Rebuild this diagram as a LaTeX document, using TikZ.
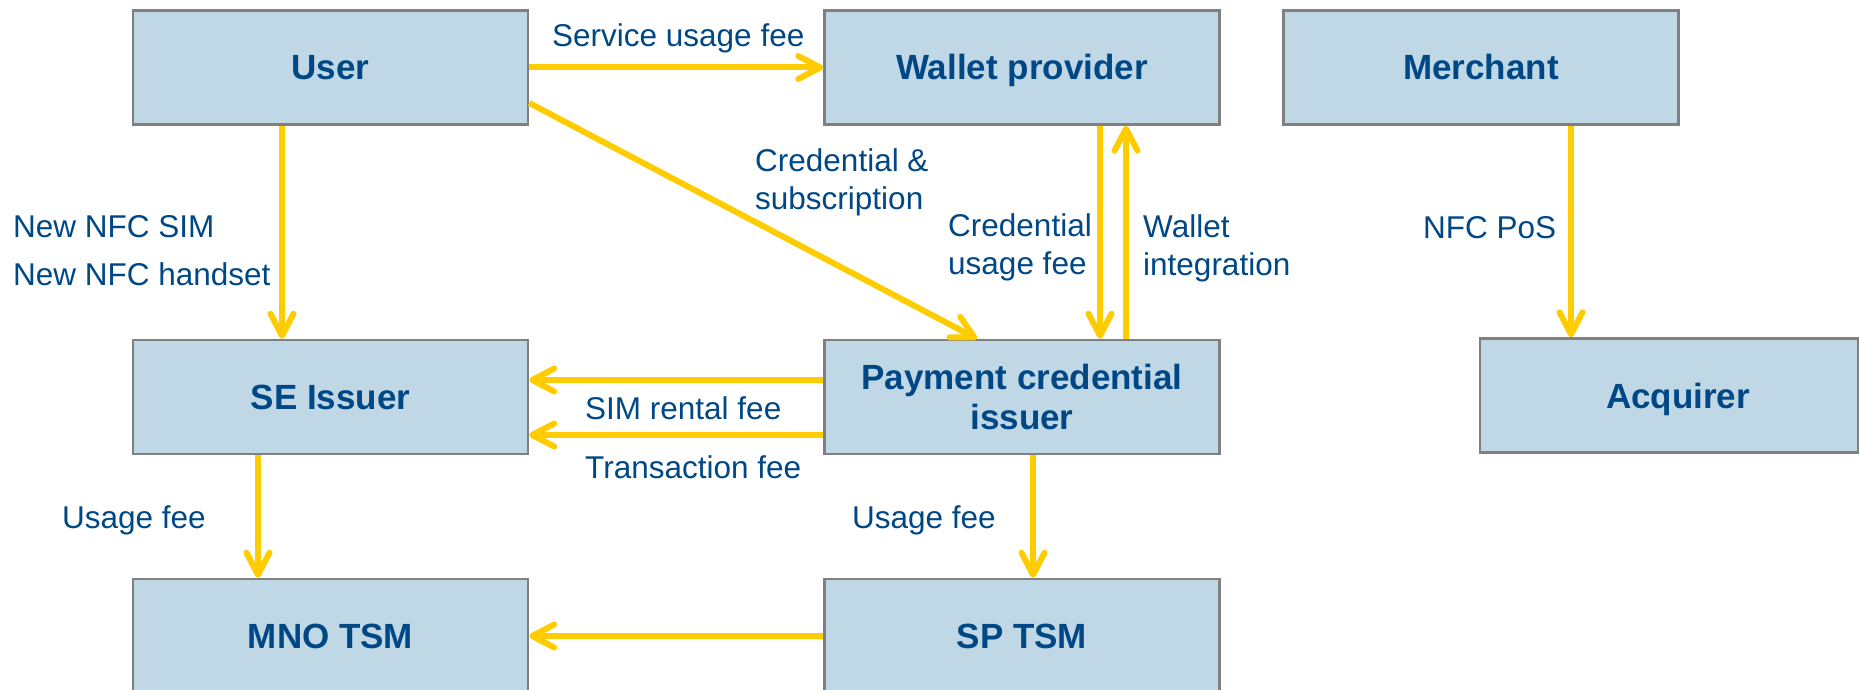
\documentclass[tikz,border=0pt]{standalone}
\usepackage{fontspec}
\setmainfont{Liberation Sans}
\usetikzlibrary{arrows.meta}
\definecolor{boxfill}{RGB}{192,215,229}
\definecolor{boxline}{RGB}{128,128,128}
\definecolor{flow}{RGB}{255,204,0}
\definecolor{ink}{RGB}{0,71,133}
\begin{document}
\begin{tikzpicture}[x=1pt,y=-1pt,
  party/.style={draw=boxline, line width=2.5pt, fill=boxfill,
    minimum width=395pt, minimum height=114pt, inner sep=0pt,
    text height=25pt, text depth=0pt,
    text=ink, font=\fontsize{35}{40}\selectfont\bfseries, align=center},
  flowarrow/.style={draw=flow, line width=6pt,
    -{Straight Barb[length=22pt,width=23pt,round]}},
  fee/.style={text=ink, font=\fontsize{31.5}{38}\selectfont,
    inner sep=0pt, align=left, anchor=base west}
]
\useasboundingbox (0,0) rectangle (1859,690);

% parties
\node[party] (user)     at (330.5,67.5) {User};
\node[party] (wallet)   at (1022,67.5)  {Wallet provider};
\node[party] (merchant) at (1481,67.5)  {Merchant};
\node[party] (se)       at (330.5,397)  {SE Issuer};
\node[party, text height={}, text depth={}] (pci) at (1022,397) {Payment credential\\issuer};
\node[party, minimum width=378pt] (acq) at (1669,395.5) {\hspace*{18pt}Acquirer};
\node[party] (mno)      at (330.5,636)  {MNO TSM};
\node[party] (sptsm)    at (1022,636)   {SP TSM};

% flows
\draw[flowarrow] (user.east) -- (wallet.west);
\draw[flowarrow] (user.east |- 0,103) -- (pci.north -| 977,0);
\draw[flowarrow] (user.south -| 282,0) -- (se.north -| 282,0);
\draw[flowarrow] (wallet.south -| 1100,0) -- (pci.north -| 1100,0);
\draw[flowarrow] (pci.north -| 1126,0) -- (wallet.south -| 1126,0);
\draw[flowarrow] (pci.west |- 0,380) -- (se.east |- 0,380);
\draw[flowarrow] (pci.west |- 0,435) -- (se.east |- 0,435);
\draw[flowarrow] (se.south -| 258,0) -- (mno.north -| 258,0);
\draw[flowarrow] (pci.south -| 1033,0) -- (sptsm.north -| 1033,0);
\draw[flowarrow] (sptsm.west) -- (mno.east);
\draw[flowarrow] (merchant.south -| 1571,0) -- (acq.north -| 1571,0);

% flow labels (multi-line labels are placed by their last line)
\node[fee] (lservice) at (552,47)  {Service usage fee};
\node[fee] (lcredsub) at (755,209) {Credential \&\\subscription};
\node[fee, font=\fontsize{31.5}{48}\selectfont] (lnew) at (13,285) {New NFC SIM\\New NFC handset};
\node[fee] (lcreduse) at (948,274) {Credential\\usage fee};
\node[fee] (lwallet)  at (1143,275) {Wallet\\integration};
\node[fee] (lnfcpos)  at (1423,238) {NFC PoS};
\node[fee] (lsim)     at (585,419) {SIM rental fee};
\node[fee] (ltrans)   at (585,478) {Transaction fee};
\node[fee] (luse1)    at (62,528)  {Usage fee};
\node[fee] (luse2)    at (852,528) {Usage fee};
\end{tikzpicture}
\end{document}
